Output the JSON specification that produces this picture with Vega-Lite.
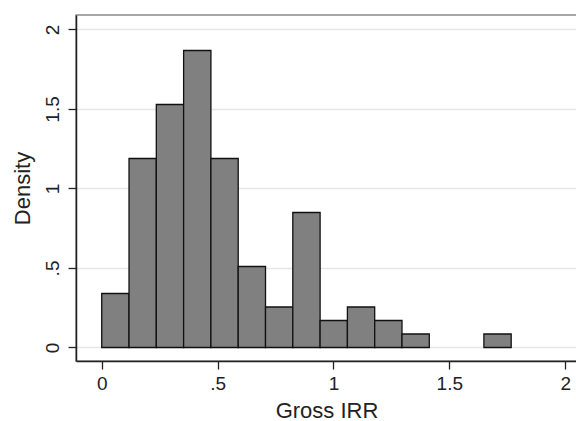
{
  "$schema": "https://vega.github.io/schema/vega-lite/v6.json",
  "autosize": "none",
  "width": 501,
  "height": 346,
  "padding": {"left": 76, "top": 15, "right": 0, "bottom": 60},
  "background": "white",
  "config": {
    "view": {"stroke": "#8a8a8a", "strokeWidth": 1.5},
    "font": "Liberation Sans"
  },
  "data": {
    "values": [
      {"start": 0.0, "end": 0.1178, "density": 0.3396},
      {"start": 0.1178, "end": 0.2356, "density": 1.1885},
      {"start": 0.2356, "end": 0.3534, "density": 1.528},
      {"start": 0.3534, "end": 0.4712, "density": 1.8676},
      {"start": 0.4712, "end": 0.589, "density": 1.1885},
      {"start": 0.589, "end": 0.7068, "density": 0.5093},
      {"start": 0.7068, "end": 0.8246, "density": 0.2547},
      {"start": 0.8246, "end": 0.9424, "density": 0.8489},
      {"start": 0.9424, "end": 1.0602, "density": 0.1698},
      {"start": 1.0602, "end": 1.178, "density": 0.2547},
      {"start": 1.178, "end": 1.2958, "density": 0.1698},
      {"start": 1.2958, "end": 1.4136, "density": 0.0849},
      {"start": 1.6492, "end": 1.767, "density": 0.0849}
    ]
  },
  "mark": {"type": "rect", "fill": "#808080", "stroke": "#111111", "strokeWidth": 1.3},
  "encoding": {
    "x": {
      "field": "start",
      "type": "quantitative",
      "scale": {"domain": [-0.111, 2.051], "nice": false, "zero": false},
      "axis": {
        "title": "Gross IRR",
        "values": [0, 0.5, 1, 1.5, 2],
        "labelExpr": "datum.value == 0 ? '0' : datum.value == 0.5 ? '.5' : datum.value == 1 ? '1' : datum.value == 1.5 ? '1.5' : '2'",
        "grid": false,
        "domainColor": "#222222",
        "domainWidth": 1.5,
        "tickColor": "#222222",
        "tickWidth": 1.3,
        "tickSize": 8,
        "labelPadding": 5,
        "labelFontSize": 19,
        "labelColor": "#222222",
        "labelFont": "Liberation Sans",
        "titleFont": "Liberation Sans",
        "titleFontSize": 22,
        "titleFontWeight": "normal",
        "titleColor": "#222222",
        "titlePadding": 7
      }
    },
    "x2": {"field": "end"},
    "y": {
      "field": "density",
      "type": "quantitative",
      "scale": {"domain": [-0.085, 2.091], "nice": false, "zero": false},
      "axis": {
        "title": "Density",
        "values": [0, 0.5, 1, 1.5, 2],
        "labelExpr": "datum.value == 0 ? '0' : datum.value == 0.5 ? '.5' : datum.value == 1 ? '1' : datum.value == 1.5 ? '1.5' : '2'",
        "grid": true,
        "gridColor": "#e6e6e6",
        "gridWidth": 1.3,
        "domainColor": "#222222",
        "domainWidth": 1.5,
        "tickColor": "#222222",
        "tickWidth": 1.3,
        "tickSize": 8,
        "labelAngle": 270,
        "labelAlign": "center",
        "labelBaseline": "bottom",
        "labelPadding": 6,
        "labelFontSize": 19,
        "labelColor": "#222222",
        "labelFont": "Liberation Sans",
        "titleFont": "Liberation Sans",
        "titleFontSize": 22,
        "titleFontWeight": "normal",
        "titleColor": "#222222",
        "titlePadding": 9
      }
    },
    "y2": {"datum": 0}
  }
}
